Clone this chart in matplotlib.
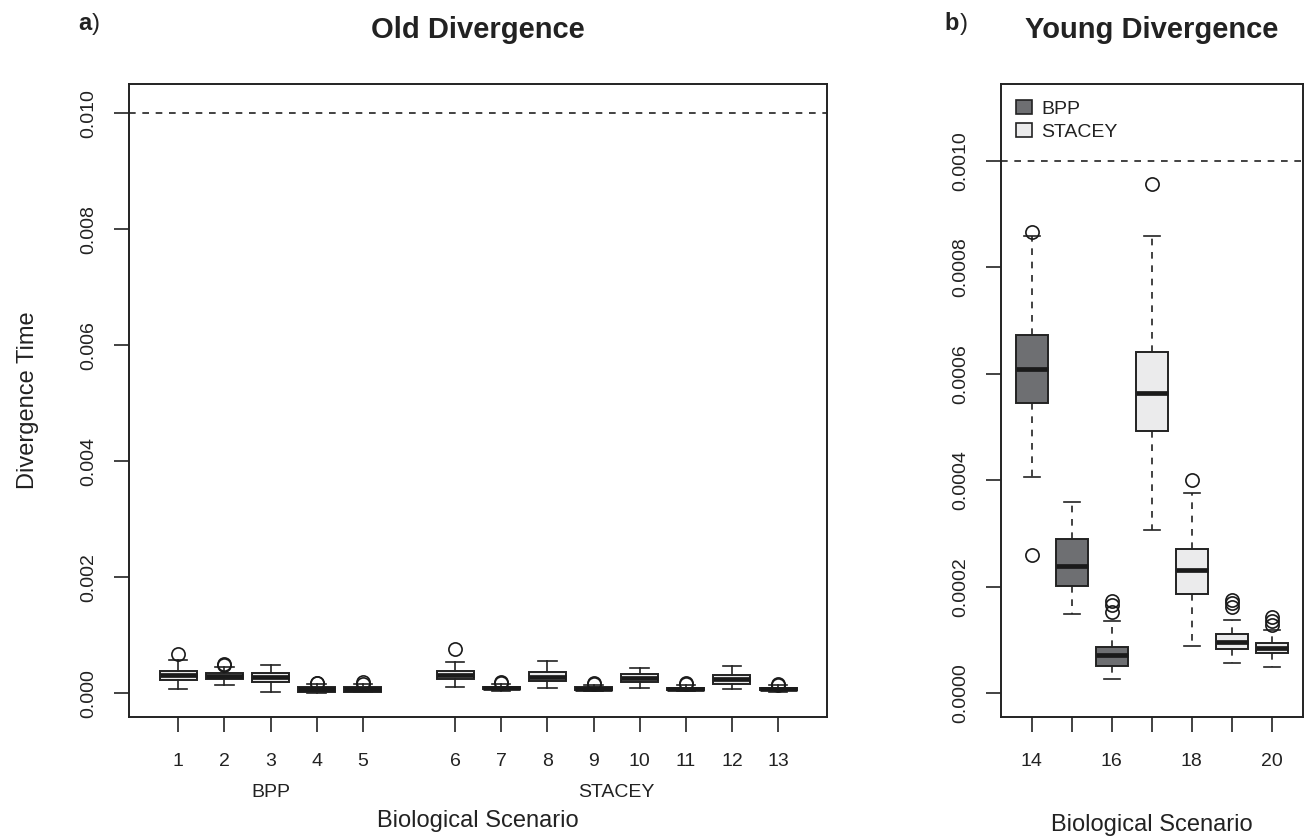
import numpy as np
import matplotlib
matplotlib.use("Agg")
import matplotlib.pyplot as plt
from matplotlib.patches import Patch

plt.rcParams['font.family'] = ['Liberation Sans', 'DejaVu Sans']

# ---- data: Old divergence (panel a), scenarios 1-13 ----
old_labels = [str(i) for i in range(1, 14)]
old_groups = ["BPP"] * 5 + ["STACEY"] * 8
old_q1 = [0.000229, 0.000241, 0.000200, 0.000030, 0.000030, 0.000252, 0.000065,
          0.000217, 0.000055, 0.000195, 0.000055, 0.000160, 0.000050]
old_med = [0.000310, 0.000298, 0.000286, 0.000069, 0.000069, 0.000320, 0.000088,
           0.000286, 0.000080, 0.000269, 0.000078, 0.000241, 0.000072]
old_q3 = [0.000390, 0.000355, 0.000355, 0.000103, 0.000100, 0.000384, 0.000110,
          0.000362, 0.000100, 0.000327, 0.000098, 0.000315, 0.000095]
old_lo = [0.000069, 0.000143, 0.000028, 0.000010, 0.000017, 0.000103, 0.000040,
          0.000097, 0.000035, 0.000097, 0.000035, 0.000074, 0.000030]
old_hi = [0.000574, 0.000458, 0.000487, 0.000155, 0.000155, 0.000534, 0.000160,
          0.000556, 0.000150, 0.000430, 0.000145, 0.000470, 0.000140]
old_out = [[0.000672], [0.000490, 0.000505], [], [0.000170, 0.000183],
           [0.000165, 0.000200], [0.000758], [0.000175, 0.000190], [],
           [0.000165, 0.000180], [], [0.000160, 0.000170], [], [0.000150, 0.000165]]
old_true = 0.010

# ---- data: Young divergence (panel b), scenarios 14-20 ----
young_labels = list(range(14, 21))
young_groups = ["BPP"] * 3 + ["STACEY"] * 4
young_q1 = [0.000545, 0.000202, 0.0000513, 0.000493, 0.000187, 0.0000826, 0.0000752]
young_med = [0.000609, 0.000239, 0.0000714, 0.000564, 0.000232, 0.000097, 0.0000845]
young_q3 = [0.000672, 0.000290, 0.0000876, 0.000641, 0.000271, 0.000111, 0.0000951]
young_lo = [0.000406, 0.000149, 0.0000263, 0.000307, 0.0000889, 0.0000564, 0.0000489]
young_hi = [0.000858, 0.000359, 0.000135, 0.000859, 0.000376, 0.000138, 0.000118]
young_out = [[0.000867, 0.000260], [], [0.000153, 0.000165, 0.000174], [0.000957],
             [0.000400], [0.000162, 0.000169, 0.000175], [0.000128, 0.000136, 0.000143]]
young_true = 0.0010

group_colors = {"BPP": "#6e6f72", "STACEY": "#ebebec"}


def make_stats(q1, med, q3, lo, hi, out):
    return [dict(q1=a, med=b, q3=c, whislo=d, whishi=e, fliers=f)
            for a, b, c, d, e, f in zip(q1, med, q3, lo, hi, out)]


def draw_boxes(ax, stats, positions, colors, whisk_style):
    bp = ax.bxp(stats, positions=positions, widths=0.8, patch_artist=True,
                showfliers=True, shownotches=False,
                boxprops=dict(edgecolor="#222222", linewidth=1.4),
                medianprops=dict(color="#1a1a1a", linewidth=3.4, solid_capstyle="butt"),
                whiskerprops=dict(color="#222222", linewidth=1.2, linestyle=whisk_style),
                capprops=dict(color="#222222", linewidth=1.2),
                flierprops=dict(marker="o", markerfacecolor="none",
                                markeredgecolor="#1a1a1a", markersize=9.5,
                                markeredgewidth=1.2),
                capwidths=0.4)
    for patch, col in zip(bp["boxes"], colors):
        patch.set_facecolor(col)
    return bp


def style_axes(ax):
    for s in ax.spines.values():
        s.set_linewidth(1.4)
        s.set_color("#222222")
    ax.tick_params(axis="both", direction="out", length=11, width=1.2,
                   color="#222222", labelsize=14, labelcolor="#222222")
    ax.tick_params(axis="x", pad=15)
    ax.tick_params(axis="y", pad=12)


W, H = 1307, 840
fig = plt.figure(figsize=(W / 100, H / 100), dpi=100)


def fig_box(l, t, r, b):
    return [l / W, 1 - b / H, (r - l) / W, (b - t) / H]


# ---- panel a ----
ax1 = fig.add_axes(fig_box(129.3, 84, 827, 716.7))
pos_a = [1, 2, 3, 4, 5, 7, 8, 9, 10, 11, 12, 13, 14]
draw_boxes(ax1, make_stats(old_q1, old_med, old_q3, old_lo, old_hi, old_out),
           pos_a, [group_colors["STACEY"]] * len(pos_a), "-")
ax1.axhline(old_true, color="#222222", linestyle=(0, (4, 4)), linewidth=1.2)
ax1.set_xlim(-0.06, 15.06)
ax1.set_ylim(-0.000404, 0.010504)
ax1.set_xticks(pos_a)
ax1.set_xticklabels(old_labels)
ax1.set_yticks(np.arange(0, 0.0101, 0.002))
ax1.set_yticklabels(["%.3f" % v for v in np.arange(0, 0.0101, 0.002)],
                    rotation=90, va="center")
style_axes(ax1)
ax1.set_ylabel("Divergence Time", fontsize=17, color="#222222", labelpad=30)
for g, xpos in [("BPP", np.mean(pos_a[:5])), ("STACEY", np.mean(pos_a[5:]))]:
    ax1.annotate(g, xy=(xpos, 0), xycoords=("data", "axes fraction"),
                 xytext=(0, -76), textcoords="offset pixels",
                 ha="center", va="center", fontsize=14, color="#222222")
ax1.annotate("Biological Scenario", xy=(0.5, 0), xycoords="axes fraction",
             xytext=(0, -104), textcoords="offset pixels",
             ha="center", va="center", fontsize=17, color="#222222")

# ---- panel b ----
ax2 = fig.add_axes(fig_box(1000.7, 84, 1302.7, 716.7))
draw_boxes(ax2, make_stats(young_q1, young_med, young_q3, young_lo, young_hi, young_out),
           young_labels, [group_colors[g] for g in young_groups], (0, (4, 4)))
ax2.axhline(young_true, color="#222222", linestyle=(0, (4, 4)), linewidth=1.2)
ax2.set_xlim(13.22, 20.78)
ax2.set_ylim(-0.000044, 0.001144)
ax2.set_xticks(young_labels)
ax2.set_xticklabels([str(v) if v % 2 == 0 else "" for v in young_labels])
yt = np.arange(0, 0.00101, 0.0002)
ax2.set_yticks(yt)
ax2.set_yticklabels(["%.4f" % v for v in yt], rotation=90, va="center")
style_axes(ax2)
ax2.annotate("Biological Scenario", xy=(0.5, 0), xycoords="axes fraction",
             xytext=(0, -108), textcoords="offset pixels",
             ha="center", va="center", fontsize=17, color="#222222")
handles = [Patch(facecolor=group_colors[g], edgecolor="#222222", linewidth=1.2, label=g)
           for g in ["BPP", "STACEY"]]
ax2.legend(handles=handles, loc="upper left", frameon=False, fontsize=14,
           handlelength=0.8, handleheight=0.8, handletextpad=0.5,
           labelspacing=0.25, borderaxespad=0.4, labelcolor="#222222")


# ---- titles ----
def ypx(p):
    return 1 - p / H


fig.text(478 / W, ypx(30), "Old Divergence", fontsize=21, fontweight="bold",
         ha="center", va="center", color="#222222")
fig.text(1151.7 / W, ypx(30), "Young Divergence", fontsize=21, fontweight="bold",
         ha="center", va="center", color="#222222")
for lab, x, gap in [("a", 78, 14), ("b", 944, 16)]:
    fig.text(x / W, ypx(24), lab, fontsize=17, fontweight="bold",
             ha="left", va="center", color="#222222")
    fig.text((x + gap) / W, ypx(24), ")", fontsize=17,
             ha="left", va="center", color="#222222")

fig.savefig("out.png", dpi=100)
